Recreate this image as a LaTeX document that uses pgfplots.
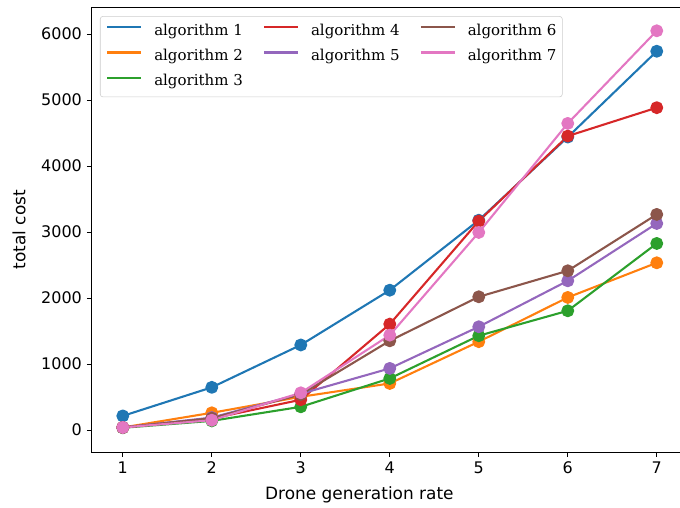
\documentclass[border=0pt]{standalone}
\usepackage{pgfplots}
\pgfplotsset{compat=1.18}
\usepackage{fontspec}
\setmainfont{DejaVu Sans}
\newfontfamily\legfont{DejaVu Serif}
\usetikzlibrary{calc}
\definecolor{c0}{HTML}{1F77B4}
\definecolor{c1}{HTML}{FF7F0E}
\definecolor{c2}{HTML}{2CA02C}
\definecolor{c3}{HTML}{D62728}
\definecolor{c4}{HTML}{9467BD}
\definecolor{c5}{HTML}{8C564B}
\definecolor{c6}{HTML}{E377C2}
\begin{document}
\begin{tikzpicture}
\begin{axis}[
  scale only axis, width=429.3pt, height=320.2pt,
  xmin=0.65, xmax=7.35, ymin=-333, ymax=6405,
  xtick={1,2,3,4,5,6,7}, ytick={0,1000,2000,3000,4000,5000,6000},
  tick align=outside, xtick pos=bottom, ytick pos=left, major tick length=3.5pt,
  tick style={black, line width=0.6pt},
  axis line style={line width=0.6pt},
  scaled y ticks=false,
  /pgf/number format/assume math mode=true,
  /pgf/number format/set thousands separator={},
  tick label style={font=\fontsize{11.5}{13}\selectfont},
  xlabel={Drone generation rate}, ylabel={total cost},
  label style={font=\fontsize{12.2}{14}\selectfont},
  xlabel style={at={(axis description cs:0.449,-0.0968)}, anchor=center},
  ylabel style={at={(axis description cs:-0.1219,0.5)}, anchor=center},
  legend columns=3,
  legend style={at={(axis description cs:0.0139,0.9804)}, anchor=north west,
    draw=black!20, rounded corners=2pt, fill=white,
    font=\legfont\fontsize{10.8}{12}\selectfont,
    inner xsep=4.3pt, inner ysep=5.5pt,
    nodes={inner sep=0pt, text height=8.2pt, text depth=2.6pt},
    row sep=7.3pt,
    /tikz/every odd column/.append style={column sep=8.6pt},
    /tikz/every even column/.append style={column sep=14.5pt}},
  legend cell align=left,
  legend image code/.code={\draw[#1, mark=none] (0pt,3pt) -- (24.5pt,3pt);},
  every axis plot/.append style={line width=1.5pt, line join=round, mark=*, mark size=3.9pt, mark options={draw=none}},
]
\addplot[c0, forget plot, mark options={fill=c0}] coordinates {(1,215) (2,648) (3,1290) (4,2120) (5,3180) (6,4440) (7,5740)};
\addplot[c1, forget plot, mark options={fill=c1}] coordinates {(1,40) (2,262) (3,505) (4,707) (5,1340) (6,2010) (7,2535)};
\addplot[c2, forget plot, mark options={fill=c2}] coordinates {(1,35) (2,140) (3,353) (4,783) (5,1430) (6,1808) (7,2828)};
\addplot[c3, forget plot, mark options={fill=c3}] coordinates {(1,40) (2,175) (3,460) (4,1606) (5,3167) (6,4455) (7,4885)};
\addplot[c4, forget plot, mark options={fill=c4}] coordinates {(1,40) (2,190) (3,550) (4,935) (5,1566) (6,2262) (7,3131)};
\addplot[c5, forget plot, mark options={fill=c5}] coordinates {(1,40) (2,180) (3,540) (4,1353) (5,2020) (6,2414) (7,3268)};
\addplot[c6, forget plot, mark options={fill=c6}] coordinates {(1,40) (2,150) (3,565) (4,1439) (5,2995) (6,4647) (7,6050)};
\addlegendimage{c0, line width=1.5pt}\addlegendentry{algorithm 1}
\addlegendimage{c3, line width=1.5pt}\addlegendentry{algorithm 4}
\addlegendimage{c5, line width=1.5pt}\addlegendentry{algorithm 6}
\addlegendimage{c1, line width=1.5pt}\addlegendentry{algorithm 2}
\addlegendimage{c4, line width=1.5pt}\addlegendentry{algorithm 5}
\addlegendimage{c6, line width=1.5pt}\addlegendentry{algorithm 7}
\addlegendimage{c2, line width=1.5pt}\addlegendentry{algorithm 3}
\end{axis}
\pgfresetboundingbox
\path ($(current axis.south west)+(-66pt,-39.6pt)$) rectangle ($(current axis.north west)+(423.6pt,5.3pt)$);
\end{tikzpicture}
\end{document}
